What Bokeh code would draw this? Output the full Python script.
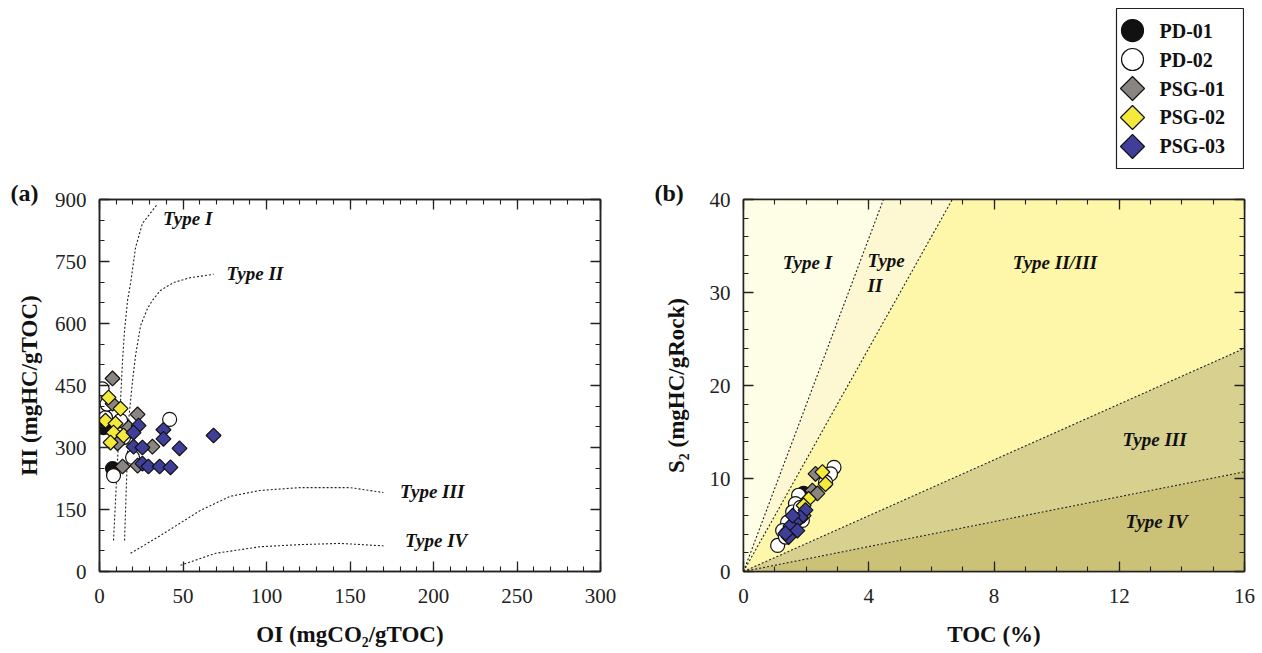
import numpy as np
from bokeh.plotting import figure
from bokeh.models import Range1d, FactorRange, LinearAxis, FixedTicker, Spacer
from bokeh.layouts import row, column
from bokeh.embed import file_html
from bokeh.resources import INLINE

# ---------------- data : panel (a) HI vs OI ----------------
pd01_oi = [1.5, 2.4, 3.0, 7.8]
pd01_hi = [360, 348, 368, 249]
pd02_oi = [1.6, 1.8, 3.6, 12.6, 14.4, 19.8, 8.4, 42.0, 4.5]
pd02_hi = [442, 390, 372, 365, 324, 276, 232, 368, 405]
psg01_oi = [7.8, 7.8, 22.8, 17.4, 31.7, 13.8, 22.8, 10.8]
psg01_hi = [467, 406, 380, 348, 302, 254, 256, 310]
psg02_oi = [5.4, 12.6, 3.6, 9.6, 8.4, 14.4, 6.6]
psg02_hi = [421, 394, 365, 358, 336, 329, 312]
psg03_oi = [23.4, 20.4, 38.3, 38.3, 68.3, 20.4, 25.7, 47.9, 25.7, 29.3, 36.0, 42.5]
psg03_hi = [353, 336, 343, 321, 329, 302, 300, 298, 261, 254, 254, 252]

# kerogen type curves (panel a)
type1_oi = [8.4, 10.2, 12.0, 13.8, 15.0, 16.8, 18.6, 21.6, 25.7, 34.1]
type1_hi = [75, 220, 365, 511, 583, 656, 697, 784, 842, 886]
type2_oi = [15.0, 16.2, 17.4, 19.8, 21.6, 24.6, 28.7, 31.7, 36.5, 44.3, 54.5, 68.3]
type2_hi = [75, 220, 365, 462, 523, 595, 636, 656, 680, 699, 711, 719]
type3_oi = [18.6, 36.5, 60.5, 78.4, 96, 120, 150, 170]
type3_hi = [44, 87, 148, 182, 196, 203, 203, 191]
type4_oi = [48.5, 69.5, 96.4, 120, 144, 170]
type4_hi = [15, 44, 60, 65, 68, 62]
a_type_labels = ["Type I", "Type II", "Type III", "Type IV"]
a_label_oi = [38, 76, 180, 183]
a_label_hi = [855, 721, 194, 75]

# ---------------- data : panel (b) S2 vs TOC ----------------
pd01_toc = [1.92, 1.75, 1.55]
pd01_s2 = [8.4, 7.6, 4.6]
pd02_toc = [2.89, 2.78, 2.62, 1.76, 1.66, 1.57, 1.41, 1.25, 1.09, 1.34, 1.82, 1.88]
pd02_s2 = [11.2, 10.5, 9.6, 8.2, 7.3, 6.4, 5.3, 4.4, 2.8, 3.7, 6.9, 5.5]
psg01_toc = [2.30, 2.20, 2.36, 1.92, 1.60]
psg01_s2 = [10.5, 8.7, 8.4, 6.0, 5.2]
psg02_toc = [2.52, 2.62, 2.08, 1.92, 1.41]
psg02_s2 = [10.7, 9.4, 7.8, 7.1, 4.4]
psg03_toc = [1.98, 1.82, 1.66, 1.50, 1.72, 1.44, 1.34, 1.57]
psg03_s2 = [6.6, 5.8, 5.3, 4.9, 4.4, 3.7, 4.1, 6.0]

# boundary slopes (S2 / TOC) between kerogen type fields
b_slopes = [8.95, 6.0, 1.5, 0.67]
b_fill = ["#FEFDE6", "#FEF8D2", "#FEF6A8", "#D8D08F", "#CBC278"]
b_type_labels = ["Type I", "Type\nII", "Type II/III", "Type III", "Type IV"]
b_label_toc = [1.25, 3.96, 8.6, 12.1, 12.2]
b_label_s2 = [33.2, 32.1, 33.2, 14.2, 5.4]

series = ["PD-01", "PD-02", "PSG-01", "PSG-02", "PSG-03"]
markers = ["circle", "circle", "square", "square", "square"]
angles = [0.0, 0.0, np.pi / 4, np.pi / 4, np.pi / 4]
sizes = [14, 14, 10.5, 10.5, 10.5]
key_sizes = [22, 22, 17, 17, 17]
colors = ["#111111", "#FFFFFF", "#8A8580", "#F3EA3C", "#3F3F9A"]

SERIF = "Liberation Serif"
INK = "#222222"


def style(p, xt, xminor, yt, yminor, ylab_standoff):
    p.xgrid.visible = False
    p.ygrid.visible = False
    p.outline_line_color = INK
    p.outline_line_width = 1.5
    p.background_fill_color = "white"
    p.border_fill_color = "white"
    for loc in ("above", "right"):
        ax = LinearAxis()
        p.add_layout(ax, loc)
        ax.major_label_text_font_size = "1px"
        ax.major_label_text_color = None
        ax.major_label_standoff = 0
    for ax in p.xaxis:
        ax.ticker = FixedTicker(ticks=xt, minor_ticks=xminor)
    for ax in p.yaxis:
        ax.ticker = FixedTicker(ticks=yt, minor_ticks=yminor)
    for ax in p.axis:
        ax.major_tick_in = 10
        ax.major_tick_out = 0
        ax.minor_tick_in = 5
        ax.minor_tick_out = 0
        ax.axis_line_color = INK
        ax.axis_line_width = 1.5
        ax.major_tick_line_color = INK
        ax.minor_tick_line_color = INK
        ax.major_tick_line_width = 1.3
        ax.minor_tick_line_width = 1.1
    for ax in (p.below[0], p.left[0]):
        ax.major_label_text_font = SERIF
        ax.major_label_text_font_size = "21px"
        ax.major_label_text_color = INK
        ax.axis_label_text_font = SERIF
        ax.axis_label_text_font_style = "bold"
        ax.axis_label_text_font_size = "23px"
        ax.axis_label_text_color = "#111111"
    p.below[0].major_label_standoff = 17
    p.below[0].axis_label_standoff = 16
    p.left[0].major_label_standoff = 13
    p.left[0].axis_label_standoff = ylab_standoff


def panel_title(p, txt):
    p.title.text = txt
    p.title.align = "left"
    p.title.offset = -89
    p.title.standoff = -12
    p.title.text_font = SERIF
    p.title.text_font_style = "bold"
    p.title.text_font_size = "24px"
    p.title.text_color = "#111111"


def add_points(p, data):
    for (xs, ys), mk, ang, sz, col in zip(data, markers, angles, sizes, colors):
        p.scatter(xs, ys, marker=mk, angle=ang, size=sz,
                  fill_color=col, line_color="#111111", line_width=1.2)


# ---------------- panel (a) ----------------
pa = figure(width=643, height=653, x_range=Range1d(0, 300), y_range=Range1d(0, 900),
            output_backend="svg", toolbar_location=None,
            min_border_left=99, min_border_right=43, min_border_top=199, min_border_bottom=82,
            x_axis_label="OI (mgCO\u2082/gTOC)", y_axis_label="HI (mgHC/gTOC)")
style(pa, list(range(0, 301, 50)), list(range(0, 301, 10)),
      list(range(0, 901, 150)), list(range(0, 901, 50)), 10)
panel_title(pa, "(a)")

for cx, cy in ((type1_oi, type1_hi), (type2_oi, type2_hi), (type3_oi, type3_hi), (type4_oi, type4_hi)):
    pa.line(cx, cy, line_color=INK, line_width=1.1, line_dash="2 2")

a_data = [(pd01_oi, pd01_hi), (pd02_oi, pd02_hi), (psg01_oi, psg01_hi),
          (psg02_oi, psg02_hi), (psg03_oi, psg03_hi)]
add_points(pa, a_data)

pa.text(a_label_oi, a_label_hi, text=a_type_labels, text_font=SERIF,
        text_font_style="bold italic", text_font_size="19px", text_color="#111111",
        text_baseline="middle", text_align="left")

# ---------------- panel (b) ----------------
pb = figure(width=619, height=484, x_range=Range1d(0, 16), y_range=Range1d(0, 40),
            output_backend="svg", toolbar_location=None,
            min_border_left=100, min_border_right=18, min_border_top=30, min_border_bottom=82,
            x_axis_label="TOC (%)", y_axis_label="S\u2082 (mgHC/gRock)")
style(pb, list(range(0, 17, 4)), list(range(0, 17, 1)),
      list(range(0, 41, 10)), list(range(0, 41, 2)), 18)
panel_title(pb, "(b)")

xmax, ymax = 16.0, 40.0
xb = np.array(sorted(set([0.0, xmax] + [ymax / s for s in b_slopes if ymax / s < xmax])))
bounds = [np.full_like(xb, ymax)] + [np.minimum(s * xb, ymax) for s in b_slopes] + [np.zeros_like(xb)]
for i, col in enumerate(b_fill):
    pb.varea(x=xb, y1=bounds[i + 1], y2=bounds[i], fill_color=col)
for s in b_slopes:
    xe = min(xmax, ymax / s)
    pb.line([0, xe], [0, s * xe], line_color=INK, line_width=1.1, line_dash="2 2")

b_data = [(pd01_toc, pd01_s2), (pd02_toc, pd02_s2), (psg01_toc, psg01_s2),
          (psg02_toc, psg02_s2), (psg03_toc, psg03_s2)]
add_points(pb, b_data)

pb.text(b_label_toc, b_label_s2, text=b_type_labels, text_font=SERIF,
        text_font_style="bold italic", text_font_size="19px", text_color="#111111",
        text_baseline="middle", text_align="left", text_line_height=1.15)

# ---------------- legend box: one row per series on a categorical scale ----------------
lf = figure(width=129, height=162, x_range=Range1d(-16, 111),
            y_range=FactorRange(factors=series[::-1], range_padding=0.26,
                                range_padding_units="absolute"),
            output_backend="svg", toolbar_location=None, min_border=1,
            x_axis_location=None, y_axis_location=None)
lf.xgrid.visible = False
lf.ygrid.visible = False
lf.outline_line_color = INK
lf.outline_line_width = 1.2
key_x = np.zeros(len(series))
for i in range(len(series)):
    lf.scatter(key_x[i:i + 1], series[i:i + 1], marker=markers[i], angle=angles[i],
               size=key_sizes[i], fill_color=colors[i], line_color="#111111", line_width=1.2)
lf.text(key_x, series, text=series, x_offset=27, text_font=SERIF, text_font_style="bold",
        text_font_size="20px", text_color="#111111", text_baseline="middle", text_align="left")

right = column(Spacer(height=7), row(Spacer(width=472), lf), pb)
layout = row(pa, right)
open("out.html", "w").write(file_html(layout, INLINE))
